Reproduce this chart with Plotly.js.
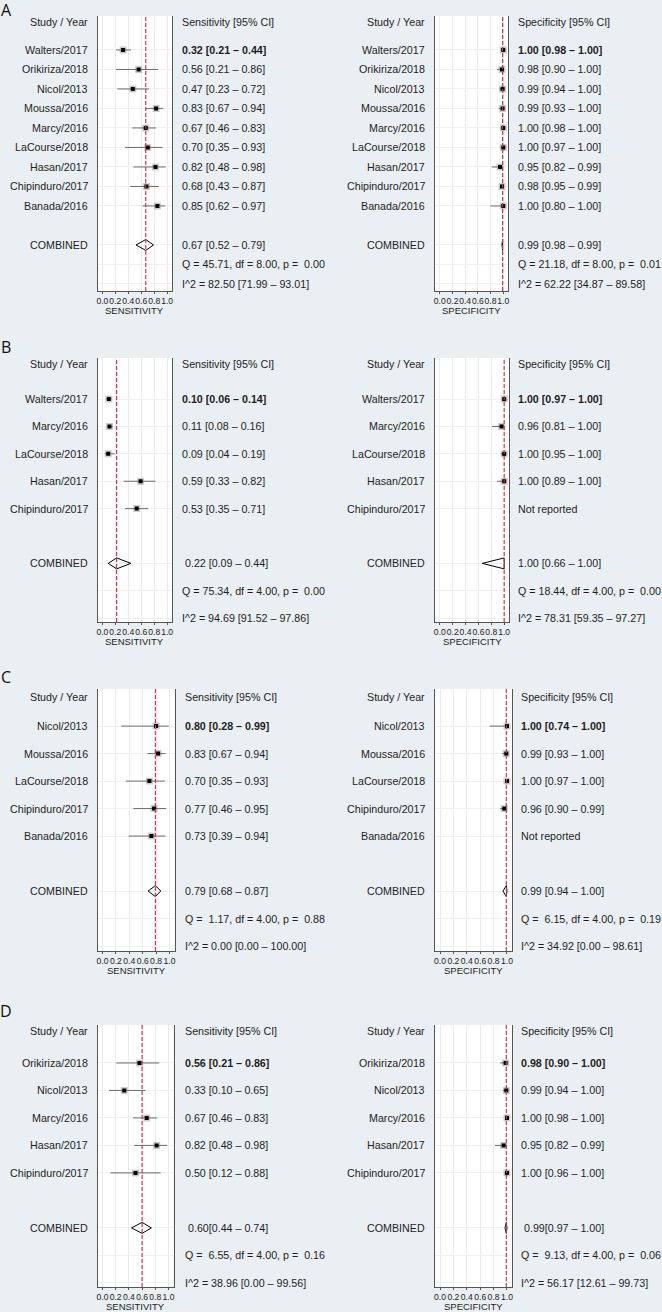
<!DOCTYPE html>
<html>
<head>
<meta charset="utf-8">
<script src="https://cdn.plot.ly/plotly-3.0.1.min.js"></script>
<style>
  body { margin: 0; background: #e9eff2; }
  #chart { width: 662px; height: 1312px; }
</style>
</head>
<body>
<div id="chart"></div>
<script>
// ---- A: all studies ----
var studiesA = ['Walters/2017', 'Orikiriza/2018', 'Nicol/2013', 'Moussa/2016', 'Marcy/2016',
                'LaCourse/2018', 'Hasan/2017', 'Chipinduro/2017', 'Banada/2016'];
var sensA   = [0.32, 0.56, 0.47, 0.83, 0.67, 0.70, 0.82, 0.68, 0.85];
var sensLoA = [0.21, 0.21, 0.23, 0.67, 0.46, 0.35, 0.48, 0.43, 0.62];
var sensHiA = [0.44, 0.86, 0.72, 0.94, 0.83, 0.93, 0.98, 0.87, 0.97];
var specA   = [1.00, 0.98, 0.99, 0.99, 1.00, 1.00, 0.95, 0.98, 1.00];
var specLoA = [0.98, 0.90, 0.94, 0.93, 0.98, 0.97, 0.82, 0.95, 0.80];
var specHiA = [1.00, 1.00, 1.00, 1.00, 1.00, 1.00, 0.99, 0.99, 1.00];
var combSensA = [0.67, 0.52, 0.79], qSensA = [45.71, 8.00, 0.00], i2SensA = [82.50, 71.99, 93.01];
var combSpecA = [0.99, 0.98, 0.99], qSpecA = [21.18, 8.00, 0.01], i2SpecA = [62.22, 34.87, 89.58];

// ---- B ----
var studiesB = ['Walters/2017', 'Marcy/2016', 'LaCourse/2018', 'Hasan/2017', 'Chipinduro/2017'];
var sensB   = [0.10, 0.11, 0.09, 0.59, 0.53];
var sensLoB = [0.06, 0.08, 0.04, 0.33, 0.35];
var sensHiB = [0.14, 0.16, 0.19, 0.82, 0.71];
var specB   = [1.00, 0.96, 1.00, 1.00, null];
var specLoB = [0.97, 0.81, 0.95, 0.89, null];
var specHiB = [1.00, 1.00, 1.00, 1.00, null];
var combSensB = [0.22, 0.09, 0.44], qSensB = [75.34, 4.00, 0.00], i2SensB = [94.69, 91.52, 97.86];
var combSpecB = [1.00, 0.66, 1.00], qSpecB = [18.44, 4.00, 0.00], i2SpecB = [78.31, 59.35, 97.27];

// ---- C ----
var studiesC = ['Nicol/2013', 'Moussa/2016', 'LaCourse/2018', 'Chipinduro/2017', 'Banada/2016'];
var sensC   = [0.80, 0.83, 0.70, 0.77, 0.73];
var sensLoC = [0.28, 0.67, 0.35, 0.46, 0.39];
var sensHiC = [0.99, 0.94, 0.93, 0.95, 0.94];
var specC   = [1.00, 0.99, 1.00, 0.96, null];
var specLoC = [0.74, 0.93, 0.97, 0.90, null];
var specHiC = [1.00, 1.00, 1.00, 0.99, null];
var combSensC = [0.79, 0.68, 0.87], qSensC = [1.17, 4.00, 0.88], i2SensC = [0.00, 0.00, 100.00];
var combSpecC = [0.99, 0.94, 1.00], qSpecC = [6.15, 4.00, 0.19], i2SpecC = [34.92, 0.00, 98.61];

// ---- D ----
var studiesD = ['Orikiriza/2018', 'Nicol/2013', 'Marcy/2016', 'Hasan/2017', 'Chipinduro/2017'];
var sensD   = [0.56, 0.33, 0.67, 0.82, 0.50];
var sensLoD = [0.21, 0.10, 0.46, 0.48, 0.12];
var sensHiD = [0.86, 0.65, 0.83, 0.98, 0.88];
var specD   = [0.98, 0.99, 1.00, 0.95, 1.00];
var specLoD = [0.90, 0.94, 0.98, 0.82, 0.96];
var specHiD = [1.00, 1.00, 1.00, 0.99, 1.00];
var combSensD = [0.60, 0.44, 0.74], qSensD = [6.55, 4.00, 0.16], i2SensD = [38.96, 0.00, 99.56];
var combSpecD = [0.99, 0.97, 1.00], qSpecD = [9.13, 4.00, 0.06], i2SpecD = [56.17, 12.61, 99.73];

var xTicks = [0, 0.2, 0.4, 0.6, 0.8, 1.0];

var W = 662, H = 1312;
var FONT = 'Liberation Sans, Arial, sans-serif';
var TXT = '#1e1e1e';

// panel geometry in pixels
var panels = [
  { letter: 'A', letterY: 10, studies: studiesA, top: 16, bottom: 291, head: -0.44, yr: [13.36, -0.74], dh: 0.28,
    sides: [
      { est: sensA, lo: sensLoA, hi: sensHiA, comb: combSensA, q: qSensA, i2: i2SensA, title: 'SENSITIVITY',
        head: 'Sensitivity [95% CI]', px: [97.5, 172], lab: 88, val: 182, lead: '', sep: ' ' },
      { est: specA, lo: specLoA, hi: specHiA, comb: combSpecA, q: qSpecA, i2: i2SpecA, title: 'SPECIFICITY',
        head: 'Specificity [95% CI]', px: [435, 508], lab: 425, val: 518, lead: '', sep: ' ' }
    ] },
  { letter: 'B', letterY: 347, studies: studiesB, top: 358, bottom: 622, head: -0.28, yr: [9.14, -0.5], dh: 0.2,
    sides: [
      { est: sensB, lo: sensLoB, hi: sensHiB, comb: combSensB, q: qSensB, i2: i2SensB, title: 'SENSITIVITY',
        head: 'Sensitivity [95% CI]', px: [97.5, 172], lab: 88, val: 182, lead: ' ', sep: ' ' },
      { est: specB, lo: specLoB, hi: specHiB, comb: combSpecB, q: qSpecB, i2: i2SpecB, title: 'SPECIFICITY',
        head: 'Specificity [95% CI]', px: [435, 509], lab: 425, val: 518, lead: '', sep: ' ' }
    ] },
  { letter: 'C', letterY: 677, studies: studiesC, top: 689, bottom: 951, head: -0.05, yr: [9.18, -0.35], dh: 0.2,
    sides: [
      { est: sensC, lo: sensLoC, hi: sensHiC, comb: combSensC, q: qSensC, i2: i2SensC, title: 'SENSITIVITY',
        head: 'Sensitivity [95% CI]', px: [97.5, 174.5], lab: 88, val: 184.5, lead: '', sep: ' ' },
      { est: specC, lo: specLoC, hi: specHiC, comb: combSpecC, q: qSpecC, i2: i2SpecC, title: 'SPECIFICITY',
        head: 'Specificity [95% CI]', px: [435, 512], lab: 425, val: 521, lead: '', sep: ' ' }
    ] },
  { letter: 'D', letterY: 1011, studies: studiesD, top: 1025, bottom: 1287, head: -0.16, yr: [9.15, -0.38], dh: 0.2,
    sides: [
      { est: sensD, lo: sensLoD, hi: sensHiD, comb: combSensD, q: qSensD, i2: i2SensD, title: 'SENSITIVITY',
        head: 'Sensitivity [95% CI]', px: [97.5, 173.5], lab: 88, val: 184.5, lead: ' ', sep: '' },
      { est: specD, lo: specLoD, hi: specHiD, comb: combSpecD, q: qSpecD, i2: i2SpecD, title: 'SPECIFICITY',
        head: 'Specificity [95% CI]', px: [435, 512], lab: 425, val: 521, lead: ' ', sep: '' }
    ] }
];

function f2(v) { return v.toFixed(2); }
function pad(v) { var s = f2(v); while (s.length < 5) s = '\u00a0' + s; return s; }
function ci(e, l, h, sep) { return f2(e) + sep + '[' + f2(l) + ' \u2013 ' + f2(h) + ']'; }

var data = [], shapes = [], annotations = [];
var layout = {
  width: W, height: H,
  margin: { l: 0, r: 0, t: 0, b: 0 },
  paper_bgcolor: '#e9eff2',
  plot_bgcolor: '#ffffff',
  showlegend: false,
  font: { family: FONT, color: TXT }
};

function txt(text, xpx, yref, y, xanchor, size) {
  return {
    text: text, x: xpx / W, xref: 'paper', y: y, yref: yref,
    xanchor: xanchor, yanchor: 'middle', showarrow: false,
    borderpad: 0, borderwidth: 0,
    font: { family: FONT, size: size || 10.7, color: TXT }
  };
}

panels.forEach(function (p, k) {
  var nS = p.studies.length;
  var rows = p.studies.map(function (_, i) { return i + 1; });
  var rComb = nS + 2, rQ = nS + 3, rI = nS + 4;

  annotations.push({
    text: p.letter, x: 6 / W, xref: 'paper', y: 1 - p.letterY / H, yref: 'paper',
    xanchor: 'center', yanchor: 'middle', showarrow: false, borderpad: 0,
    font: { family: 'Open Sans, sans-serif', size: 16, color: '#111' }
  });

  p.sides.forEach(function (s, j) {
    var n = k * 2 + j + 1;
    var suf = n === 1 ? '' : String(n);
    var xa = 'x' + suf, ya = 'y' + suf;

    layout['xaxis' + suf] = {
      domain: [s.px[0] / W, s.px[1] / W], anchor: ya,
      range: [-0.075, 1.075], fixedrange: true,
      tickvals: xTicks, tickformat: '.1f', tickangle: 0,
      tickfont: { family: FONT, size: 8.6, color: TXT },
      ticks: 'outside', ticklen: 2, tickcolor: '#555', tickwidth: 1,
      showline: true, linecolor: '#555', linewidth: 1, mirror: false,
      showgrid: true, gridcolor: '#ebebeb', gridwidth: 1, zeroline: false
    };
    layout['yaxis' + suf] = {
      domain: [1 - p.bottom / H, 1 - p.top / H], anchor: xa,
      range: p.yr, fixedrange: true,
      tickvals: rows.concat([rComb, rQ, rI]), showticklabels: false, ticks: '',
      showline: true, mirror: true, linecolor: '#555', linewidth: 1,
      showgrid: true, gridcolor: '#f0f0f0', gridwidth: 1, zeroline: false
    };

    // CI lines + grey weight box
    data.push({
      type: 'scatter', mode: 'markers', x: s.est, y: rows, xaxis: xa, yaxis: ya,
      marker: { symbol: 'square', size: 7, color: 'rgba(110,110,110,0.35)' },
      error_x: {
        type: 'data', symmetric: false,
        array: s.hi.map(function (h, i) { return h === null ? null : h - s.est[i]; }),
        arrayminus: s.lo.map(function (l, i) { return l === null ? null : s.est[i] - l; }),
        color: '#6a6a6a', thickness: 1, width: 0
      },
      hoverinfo: 'skip'
    });
    // point estimate
    data.push({
      type: 'scatter', mode: 'markers', x: s.est, y: rows, xaxis: xa, yaxis: ya,
      marker: { symbol: 'square', size: 4, color: '#000' },
      hovertemplate: '%{x:.2f}<extra></extra>'
    });
    // pooled diamond
    var c = s.comb;
    data.push({
      type: 'scatter', mode: 'lines', xaxis: xa, yaxis: ya,
      x: [c[1], c[0], c[2], c[0], c[1]],
      y: [rComb, rComb - p.dh, rComb, rComb + p.dh, rComb],
      line: { color: '#000', width: 1 }, hoverinfo: 'skip'
    });
    // dashed line at pooled estimate
    shapes.push({
      type: 'line', xref: xa, yref: ya + ' domain', x0: c[0], x1: c[0], y0: 0, y1: 1,
      line: { color: '#c9385a', width: 1.2, dash: '4px,2px' }
    });

    // text columns
    annotations.push(txt('Study / Year', s.lab, ya, p.head, 'right'));
    annotations.push(txt(s.head, s.val, ya, p.head, 'left'));
    p.studies.forEach(function (st, i) {
      annotations.push(txt(st, s.lab, ya, rows[i], 'right'));
      var t = s.est[i] === null ? 'Not reported' : ci(s.est[i], s.lo[i], s.hi[i], ' ');
      if (i === 0) t = '<b>' + t + '</b>';
      annotations.push(txt(t, s.val, ya, rows[i], 'left'));
    });
    annotations.push(txt('COMBINED', s.lab, ya, rComb, 'right'));
    annotations.push(txt(s.lead.replace(' ', '\u00a0') + ci(c[0], c[1], c[2], s.sep), s.val, ya, rComb, 'left'));
    annotations.push(txt('Q = ' + pad(s.q[0]) + ', df = ' + f2(s.q[1]) + ', p = ' + pad(s.q[2]), s.val, ya, rQ, 'left'));
    annotations.push(txt('I^2 = ' + f2(s.i2[0]) + ' [' + f2(s.i2[1]) + ' \u2013 ' + f2(s.i2[2]) + ']', s.val, ya, rI, 'left'));

    // axis title
    annotations.push({
      text: s.title, x: 0.5, xref: xa + ' domain', y: 1 - (p.bottom + 19.5) / H, yref: 'paper',
      xanchor: 'center', yanchor: 'middle', showarrow: false, borderpad: 0,
      font: { family: FONT, size: 9.5, color: TXT }
    });
  });
});

layout.shapes = shapes;
layout.annotations = annotations;

Plotly.newPlot('chart', data, layout, { displayModeBar: false, staticPlot: true });
</script>
</body>
</html>
